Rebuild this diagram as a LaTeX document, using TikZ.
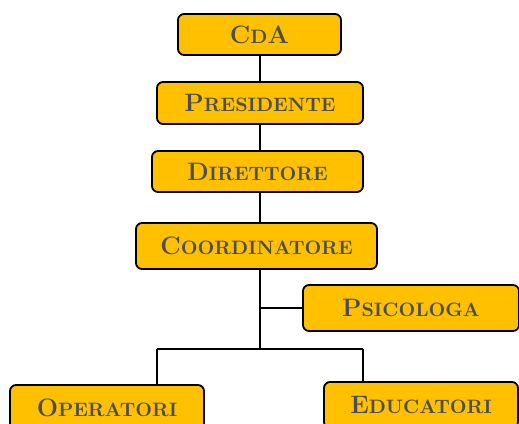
\documentclass[tikz,border=0pt]{standalone}
\usepackage[dvipsnames]{xcolor}
\definecolor{boxcolor}{HTML}{FFC000}
\definecolor{textcolor}{HTML}{4D4D4D}
\usepackage{tikz}
\usetikzlibrary{%
        calc,
        math,
    }
% 假小型大写
\newcommand{\largeltr}[1]{{\fontsize{12.6}{14}\selectfont #1}}
\newcommand{\smallltr}[1]{{\fontsize{9.7}{11}\selectfont #1}}
\newcommand{\orgsc}[2]{\largeltr{#1}\smallltr{#2}}

\begin{document}
\begin{tikzpicture}[x=0.5pt, y=-0.5pt, line width=0.9pt]
    \tikzset{%
        rolebox/.style={%
                draw=black, fill=boxcolor, rounded corners=3pt, inner sep=0pt,
                text=textcolor, font=\bfseries, minimum width=#1,
            },
        rolebox/.default=97pt,
    }

    % 画布
    \useasboundingbox (0, 0) rectangle (519, 423);

    % 节点
    \node (CdA) [rolebox=81.5pt, minimum height=20.5pt] at (259.5, 34.5) {\largeltr{C}\smallltr{D}\largeltr{A}};
    \node (Presidente) [rolebox=103pt, minimum height=21pt] at (260, 103) {\orgsc{P}{RESIDENTE}};
    \node (Direttore) [rolebox=105.5pt, minimum height=20.5pt] at (257.5, 171.5) {\orgsc{D}{IRETTORE}};
    \node (Coordinatore) [rolebox=120.5pt, minimum height=23pt] at (256.5, 246) {\orgsc{C}{OORDINATORE}};
    \node (Psicologa) [rolebox=108pt, minimum height=23pt] at (411, 308) {\orgsc{P}{SICOLOGA}};
    \node (Operatori) [rolebox, minimum height=23pt] at (107, 408) {\orgsc{O}{PERATORI}};
    \node (Educatori) [rolebox, minimum height=23pt] at (421, 405) {\orgsc{E}{DUCATORI}};

    % 定义坐标
    \coordinate (spine) at (260, 0);
    \coordinate (hub) at (260, 349);
    \coordinate (barL) at (157, 349);
    \coordinate (barR) at (363, 349);

    % lines
    \draw (CdA.south -| spine) -- (Presidente.north -| spine);
    \draw (Presidente.south -| spine) -- (Direttore.north -| spine);
    \draw (Direttore.south -| spine) -- (Coordinatore.north -| spine);
    \draw (Coordinatore.south -| spine) -- (hub);
    \draw (Psicologa.west) -- (Psicologa.west -| spine);
    \draw (barL) -- (barR);
    \draw (barL) -- (barL |- Operatori.north);
    \draw (barR) -- (barR |- Educatori.north);
\end{tikzpicture}
\end{document}
